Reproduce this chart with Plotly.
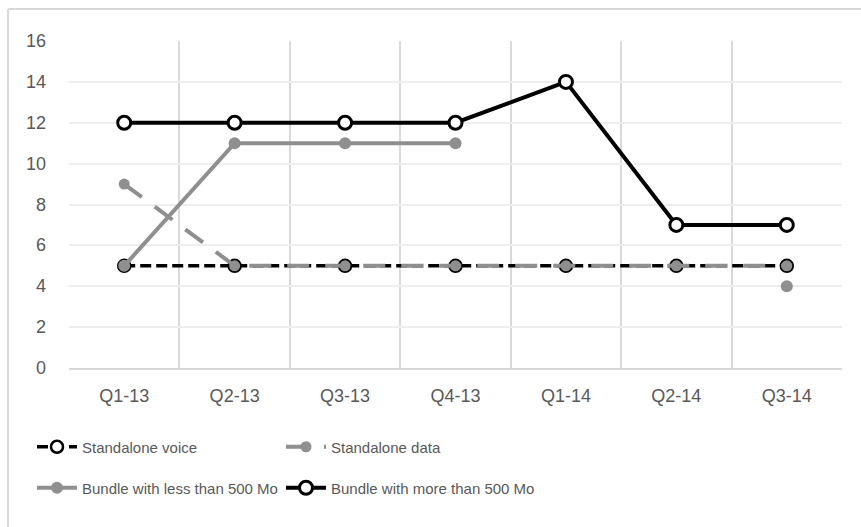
import plotly.graph_objects as go

# Quarterly offers (counts) per product family
quarters = ["Q1-13", "Q2-13", "Q3-13", "Q4-13", "Q1-14", "Q2-14", "Q3-14"]
standalone_voice = [5, 5, 5, 5, 5, 5, 5]
standalone_data = [9, 5, 5, 5, 5, 5, 5]
bundle_less_500 = [5, 11, 11, 11, None, None, 4]
bundle_more_500 = [12, 12, 12, 12, 14, 7, 7]

y_ticks = [0, 2, 4, 6, 8, 10, 12, 14, 16]

GRAY = "#8f8f8f"
TEXT = "#595959"
FONT = "Liberation Sans, Arial, sans-serif"

fig = go.Figure()

fig.add_trace(go.Scatter(
    x=quarters, y=standalone_voice, name="Standalone voice", mode="lines+markers",
    line=dict(color="black", width=3.5, dash="11px,5px"),
    marker=dict(symbol="circle", size=12, color="white", line=dict(color="black", width=2.5)),
    legend="legend",
))
fig.add_trace(go.Scatter(
    x=quarters, y=standalone_data, name="Standalone data", mode="lines+markers",
    line=dict(color=GRAY, width=4, dash="22px,16px"),
    marker=dict(symbol="circle", size=11, color=GRAY),
    legend="legend2",
))
fig.add_trace(go.Scatter(
    x=quarters, y=bundle_less_500, name="Bundle with less than 500 Mo", mode="lines+markers",
    line=dict(color=GRAY, width=4),
    marker=dict(symbol="circle", size=12, color=GRAY),
    connectgaps=False,
    legend="legend3",
))
fig.add_trace(go.Scatter(
    x=quarters, y=bundle_more_500, name="Bundle with more than 500 Mo", mode="lines+markers",
    line=dict(color="black", width=4),
    marker=dict(symbol="circle", size=13, color="white", line=dict(color="black", width=3)),
    legend="legend4",
))

W, H = 861, 527
ML, MR, MT, MB = 69, 19, 41, 159
plot_h = H - MT - MB


def py(pixel_y):
    return (H - MB - pixel_y) / plot_h


def px(pixel_x):
    return (pixel_x - ML) / (W - ML - MR)


legend_style = dict(
    orientation="v", yanchor="middle", xanchor="left",
    bgcolor="rgba(0,0,0,0)", borderwidth=0,
    font=dict(family=FONT, size=15, color=TEXT),
    itemwidth=40,
)

# value-axis labels, right-aligned a fixed gap left of the plot area
y_labels = [
    dict(text=str(v), x=0, xref="paper", y=v, yref="y",
         xanchor="right", yanchor="middle", xshift=-21, showarrow=False,
         font=dict(family=FONT, size=18, color=TEXT))
    for v in y_ticks
]

fig.update_layout(
    width=W, height=H,
    margin=dict(l=ML, r=MR, t=MT, b=MB),
    paper_bgcolor="white", plot_bgcolor="white",
    font=dict(family=FONT, color=TEXT),
    showlegend=True,
    legend=dict(x=px(32), y=py(447), **legend_style),
    legend2=dict(x=px(281), y=py(447), **legend_style),
    legend3=dict(x=px(32), y=py(488), **legend_style),
    legend4=dict(x=px(281), y=py(488), **legend_style),
    xaxis=dict(
        type="category", categoryorder="array", categoryarray=quarters,
        range=[-0.5, 6.5], tickson="boundaries",
        showgrid=True, gridcolor="#d9d9d9", gridwidth=1.5,
        showline=True, linecolor="#d9d9d9", linewidth=1.5,
        ticks="", tickfont=dict(family=FONT, size=18, color=TEXT),
        ticklabelstandoff=11, zeroline=False,
    ),
    yaxis=dict(
        range=[0, 16], tickvals=y_ticks, showticklabels=False,
        showgrid=True, gridcolor="#eeeeee", gridwidth=1.5,
        zeroline=False, showline=False, ticks="", automargin=False,
    ),
    annotations=y_labels,
    # chart-area frame: only its top and left edges fall inside the page
    shapes=[
        dict(type="line", xref="paper", yref="paper",
             x0=px(8), x1=px(W + 20), y0=py(9), y1=py(9),
             line=dict(color="#d9d9d9", width=2), layer="below"),
        dict(type="line", xref="paper", yref="paper",
             x0=px(8), x1=px(8), y0=py(9), y1=py(H + 20),
             line=dict(color="#d9d9d9", width=2), layer="below"),
    ],
)

fig.write_html("out.html")
